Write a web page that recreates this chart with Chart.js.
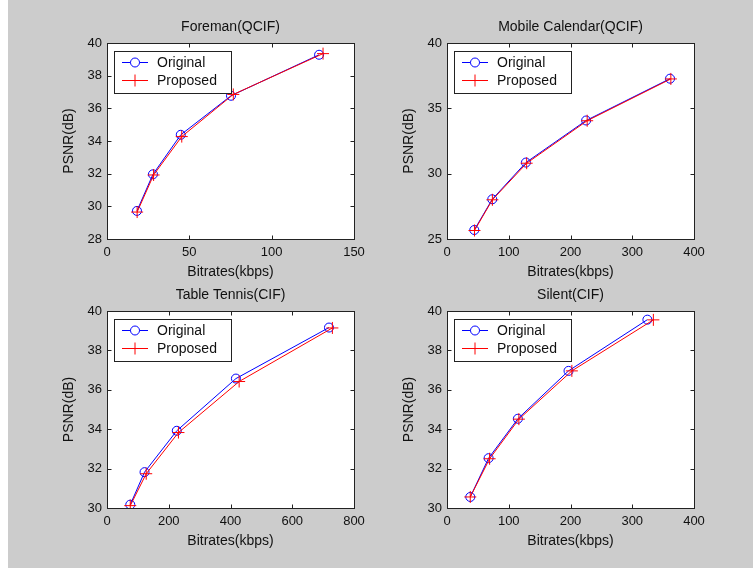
<!DOCTYPE html>
<html>
<head>
<meta charset="utf-8">
<title>PSNR vs Bitrates</title>
<script src="https://cdn.jsdelivr.net/npm/chart.js@4/dist/chart.umd.min.js"></script>
<style>
  html, body { margin: 0; padding: 0; }
  body { width: 753px; height: 568px; background: #cccccc; position: relative; overflow: hidden; }
  .strip { position: absolute; left: 0; top: 0; width: 8px; height: 568px; background: #ffffff; }
  canvas { position: absolute; }
</style>
</head>
<body>
<div class="strip"></div>
<canvas id="foreman"></canvas>
<canvas id="mobile"></canvas>
<canvas id="tennis"></canvas>
<canvas id="silent"></canvas>
<script>
// Foreman(QCIF)
const foremanOrigX = [18.2, 27.9, 44.8, 75.3, 128.8];
const foremanOrigY = [29.72, 31.96, 34.38, 36.77, 39.28];
const foremanPropX = [18.3, 28.3, 45.4, 76.7, 131.2];
const foremanPropY = [29.65, 31.92, 34.27, 36.85, 39.35];

// Mobile Calendar(QCIF)
const mobileOrigX = [44.2, 73.3, 127.8, 225.3, 361.2];
const mobileOrigY = [25.69, 28.04, 30.85, 34.07, 37.27];
const mobilePropX = [44.5, 73.5, 129.0, 227.0, 362.5];
const mobilePropY = [25.65, 28.0, 30.8, 34.05, 37.25];

// Table Tennis(CIF)
const tennisOrigX = [75.4, 121.6, 226.0, 417.6, 719.0];
const tennisOrigY = [30.17, 31.82, 33.92, 36.57, 39.16];
const tennisPropX = [75.4, 127.0, 231.4, 428.0, 730.0];
const tennisPropY = [30.12, 31.74, 33.83, 36.42, 39.14];

// Silent(CIF)
const silentOrigX = [37.7, 67.4, 114.8, 196.8, 324.5];
const silentOrigY = [30.56, 32.53, 34.53, 36.96, 39.56];
const silentPropX = [37.7, 69.0, 116.4, 202.2, 334.2];
const silentPropY = [30.56, 32.5, 34.51, 36.96, 39.55];

const seriesNames = ['Original', 'Proposed'];
const xTitle = 'Bitrates(kbps)';
const yTitle = 'PSNR(dB)';

const FONT = '"Liberation Sans", Arial, sans-serif';
const INK = '#111111';

const toPoints = (xs, ys) => xs.map((x, i) => ({ x: x, y: ys[i] }));

// marco tipo MATLAB: fondo blanco, caja completa y ticks hacia dentro
const axesBox = {
  id: 'axesBox',
  beforeDraw(chart) {
    const a = chart.chartArea;
    const ctx = chart.ctx;
    ctx.save();
    ctx.fillStyle = '#ffffff';
    ctx.fillRect(a.left, a.top, a.right - a.left, a.bottom - a.top);
    ctx.restore();
  },
  afterDatasetsDraw(chart) {
    const a = chart.chartArea;
    const ctx = chart.ctx;
    const L = a.left + 0.5, R = a.right + 0.5, T = a.top + 0.5, B = a.bottom + 0.5;
    ctx.save();
    ctx.strokeStyle = '#222222';
    ctx.lineWidth = 1;
    ctx.beginPath();
    chart.scales.x.ticks.forEach(t => {
      const px = Math.round(chart.scales.x.getPixelForValue(t.value)) + 0.5;
      ctx.moveTo(px, B); ctx.lineTo(px, B - 4);
      ctx.moveTo(px, T); ctx.lineTo(px, T + 4);
    });
    chart.scales.y.ticks.forEach(t => {
      const py = Math.round(chart.scales.y.getPixelForValue(t.value)) + 0.5;
      ctx.moveTo(L, py); ctx.lineTo(L + 4, py);
      ctx.moveTo(R, py); ctx.lineTo(R - 4, py);
    });
    ctx.stroke();
    ctx.strokeRect(L, T, R - L, B - T);

    // leyenda
    const lx = a.left + 7, ly = a.top + 8;
    ctx.fillStyle = '#ffffff';
    ctx.fillRect(lx, ly, 117, 42);
    ctx.strokeStyle = '#222222';
    ctx.strokeRect(lx + 0.5, ly + 0.5, 117, 42);
    chart.data.datasets.forEach((ds, i) => {
      const cy = ly + 11.5 + i * 18;
      const x0 = a.left + 15, x1 = a.left + 41, cx = (x0 + x1) / 2;
      ctx.strokeStyle = ds.borderColor;
      ctx.lineWidth = 1;
      ctx.beginPath();
      ctx.moveTo(x0, cy); ctx.lineTo(x1, cy);
      ctx.stroke();
      Chart.helpers.drawPoint(ctx, { pointStyle: ds.pointStyle, radius: ds.pointRadius, borderWidth: 1 }, cx, cy);
      ctx.fillStyle = INK;
      ctx.font = '14px ' + FONT;
      ctx.textAlign = 'left';
      ctx.textBaseline = 'middle';
      ctx.fillText(ds.label, a.left + 50, cy + 0.5);
    });
    ctx.restore();
  }
};

function makePlot(id, left, top, plotH, title, xMax, xStep, yMin, yMax, yStep, orig, prop) {
  const canvas = document.getElementById(id);
  canvas.width = 361;
  canvas.height = 43 + plotH + 46;
  canvas.style.left = left + 'px';
  canvas.style.top = top + 'px';

  new Chart(canvas, {
    type: 'line',
    data: {
      datasets: [
        {
          label: seriesNames[0],
          data: orig,
          borderColor: '#0000ff',
          backgroundColor: 'rgba(0,0,0,0)',
          borderWidth: 1,
          pointStyle: 'circle',
          pointRadius: 4.5,
          pointBorderWidth: 1,
          pointBackgroundColor: 'rgba(0,0,0,0)',
          tension: 0,
          order: 1
        },
        {
          label: seriesNames[1],
          data: prop,
          borderColor: '#ff0000',
          backgroundColor: 'rgba(0,0,0,0)',
          borderWidth: 1,
          pointStyle: 'cross',
          pointRadius: 6,
          pointBorderWidth: 1,
          tension: 0,
          order: 0
        }
      ]
    },
    options: {
      responsive: false,
      animation: false,
      devicePixelRatio: 1,
      layout: { padding: 0 },
      plugins: {
        legend: { display: false },
        tooltip: { enabled: false },
        title: {
          display: true,
          text: title,
          color: INK,
          font: { family: FONT, size: 14, weight: 'normal' },
          padding: { top: 19, bottom: 7.2 }
        }
      },
      scales: {
        x: {
          type: 'linear',
          position: 'bottom',
          min: 0,
          max: xMax,
          grid: { display: false, drawTicks: false },
          border: { display: false },
          ticks: { stepSize: xStep, color: INK, padding: 5.5, maxRotation: 0, font: { family: FONT, size: 13 } },
          title: { display: true, text: xTitle, color: INK, font: { family: FONT, size: 14 }, padding: { top: 0, bottom: 4.3 } },
          afterFit: s => { s.height = 46; }
        },
        y: {
          type: 'linear',
          position: 'left',
          min: yMin,
          max: yMax,
          grid: { display: false, drawTicks: false },
          border: { display: false },
          ticks: { stepSize: yStep, color: INK, padding: 5, font: { family: FONT, size: 13 } },
          title: { display: true, text: yTitle, color: INK, font: { family: FONT, size: 14 }, padding: { top: 10.6, bottom: 0 } },
          afterFit: s => { s.width = 57; }
        },
        // eje vacío a la derecha para centrar el título sobre el área de datos
        yRight: {
          type: 'linear',
          position: 'right',
          grid: { display: false, drawTicks: false },
          border: { display: false },
          ticks: { display: false },
          afterFit: s => { s.width = 57; }
        }
      }
    },
    plugins: [axesBox]
  });
}

makePlot('foreman', 50, 0, 196, 'Foreman(QCIF)', 150, 50, 28, 40, 2,
  toPoints(foremanOrigX, foremanOrigY), toPoints(foremanPropX, foremanPropY));
makePlot('mobile', 390, 0, 196, 'Mobile Calendar(QCIF)', 400, 100, 25, 40, 5,
  toPoints(mobileOrigX, mobileOrigY), toPoints(mobilePropX, mobilePropY));
makePlot('tennis', 50, 268, 197, 'Table Tennis(CIF)', 800, 200, 30, 40, 2,
  toPoints(tennisOrigX, tennisOrigY), toPoints(tennisPropX, tennisPropY));
makePlot('silent', 390, 268, 197, 'Silent(CIF)', 400, 100, 30, 40, 2,
  toPoints(silentOrigX, silentOrigY), toPoints(silentPropX, silentPropY));
</script>
</body>
</html>
